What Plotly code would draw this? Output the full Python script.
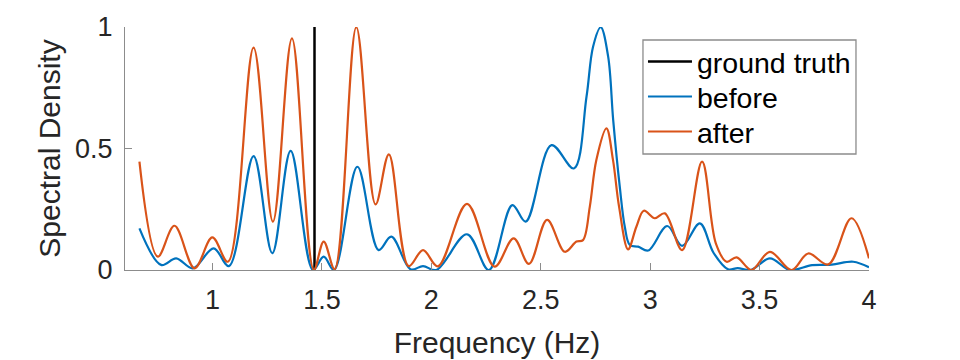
import plotly.graph_objects as go

# ---- data ----
gt_freq = [1.466, 1.466]
gt_val = [0.0, 1.0]

before_freq = [0.666, 0.765, 0.834, 0.910, 1.005, 1.075, 1.1875, 1.273, 1.357, 1.459,
               1.508, 1.555, 1.662, 1.759, 1.817, 1.905, 1.962, 2.023, 2.163, 2.263,
               2.370, 2.431, 2.549, 2.651, 2.709, 2.739, 2.774, 2.808, 2.831, 2.861,
               2.884, 2.907, 2.945, 2.991, 3.078, 3.146, 3.227, 3.290, 3.356, 3.400,
               3.460, 3.547, 3.638, 3.740, 3.830, 3.928, 4.000]
before_val = [0.171, 0.021, 0.048, 0.007, 0.089, 0.016, 0.469, 0.069, 0.490, 0.000,
              0.055, 0.000, 0.425, 0.082, 0.137, 0.003, 0.016, 0.000, 0.147, 0.000,
              0.267, 0.199, 0.514, 0.418, 0.713, 0.919, 0.999, 0.878, 0.617, 0.343,
              0.178, 0.103, 0.096, 0.080, 0.181, 0.099, 0.192, 0.070, 0.003, 0.008,
              0.000, 0.048, 0.000, 0.020, 0.022, 0.034, 0.011]

after_freq = [0.666, 0.750, 0.826, 0.918, 0.999, 1.070, 1.1875, 1.276, 1.363, 1.463,
              1.508, 1.558, 1.657, 1.745, 1.806, 1.896, 1.962, 2.030, 2.163, 2.289,
              2.376, 2.446, 2.529, 2.610, 2.663, 2.693, 2.724, 2.754, 2.800, 2.830,
              2.858, 2.899, 2.937, 2.971, 3.021, 3.067, 3.146, 3.237, 3.300, 3.349,
              3.395, 3.463, 3.547, 3.646, 3.722, 3.814, 3.920, 4.000]
after_val = [0.446, 0.055, 0.182, 0.007, 0.134, 0.034, 0.915, 0.199, 0.953, 0.000,
             0.117, 0.003, 0.999, 0.270, 0.476, 0.016, 0.082, 0.015, 0.272, 0.014,
             0.130, 0.025, 0.206, 0.075, 0.117, 0.123, 0.260, 0.453, 0.583, 0.453,
             0.260, 0.085, 0.178, 0.244, 0.213, 0.233, 0.082, 0.446, 0.110, 0.034,
             0.052, 0.000, 0.075, 0.000, 0.068, 0.023, 0.213, 0.048]

x_ticks = [1, 1.5, 2, 2.5, 3, 3.5, 4]
y_ticks = [0, 0.5, 1]

FONT = "Liberation Sans, Arial, Helvetica, sans-serif"
AX = "#8c8c8c"
TXT = "#262626"

fig = go.Figure()
fig.add_trace(go.Scatter(x=gt_freq, y=gt_val, mode="lines", name="ground truth",
                         legend="legend",
                         line=dict(color="#000000", width=2.5)))
fig.add_trace(go.Scatter(x=before_freq, y=before_val, mode="lines", name="before",
                         legend="legend2",
                         line=dict(color="#0072BD", width=2.2, shape="spline", smoothing=1.0)))
fig.add_trace(go.Scatter(x=after_freq, y=after_val, mode="lines", name="after",
                         legend="legend3",
                         line=dict(color="#D95319", width=2.2, shape="spline", smoothing=1.0)))

# legend frame (drawn behind the three single-entry legends)
fig.add_shape(type="rect", xref="paper", yref="paper",
              x0=0.6962, x1=0.9825, y0=0.4774, y1=0.9465,
              line=dict(color=AX, width=1.3), fillcolor="white", layer="above")

leg_common = dict(x=0.6962, xanchor="left", yanchor="middle",
                  bgcolor="rgba(0,0,0,0)", borderwidth=0,
                  font=dict(size=28.5, color="#000000", family=FONT),
                  itemwidth=44)

fig.update_layout(
    width=952, height=352,
    margin=dict(l=117, r=91, t=19, b=90),
    paper_bgcolor="white", plot_bgcolor="white",
    font=dict(family=FONT, color=TXT),
    showlegend=True,
    legend=dict(y=0.856, **leg_common),
    legend2=dict(y=0.712, **leg_common),
    legend3=dict(y=0.568, **leg_common),
    xaxis=dict(range=[0.6, 4], tickvals=x_ticks, ticktext=[str(v) for v in x_ticks],
               showgrid=False, zeroline=False, showline=True, linecolor=AX, linewidth=1.3,
               ticks="inside", ticklen=7, tickcolor=AX, tickwidth=1.3,
               ticklabelstandoff=5, automargin=False,
               tickfont=dict(size=27, color=TXT),
               title=dict(text="Frequency (Hz)", font=dict(size=30, color=TXT), standoff=18)),
    yaxis=dict(range=[0, 1], tickvals=y_ticks, ticktext=["0", "0.5", "1"],
               showgrid=False, zeroline=False, showline=True, linecolor=AX, linewidth=1.3,
               ticks="inside", ticklen=7, tickcolor=AX, tickwidth=1.3,
               ticklabelstandoff=6, automargin=False,
               tickfont=dict(size=27, color=TXT),
               title=dict(text="Spectral Density", font=dict(size=30, color=TXT), standoff=5)),
)

fig.write_html("out.html")
